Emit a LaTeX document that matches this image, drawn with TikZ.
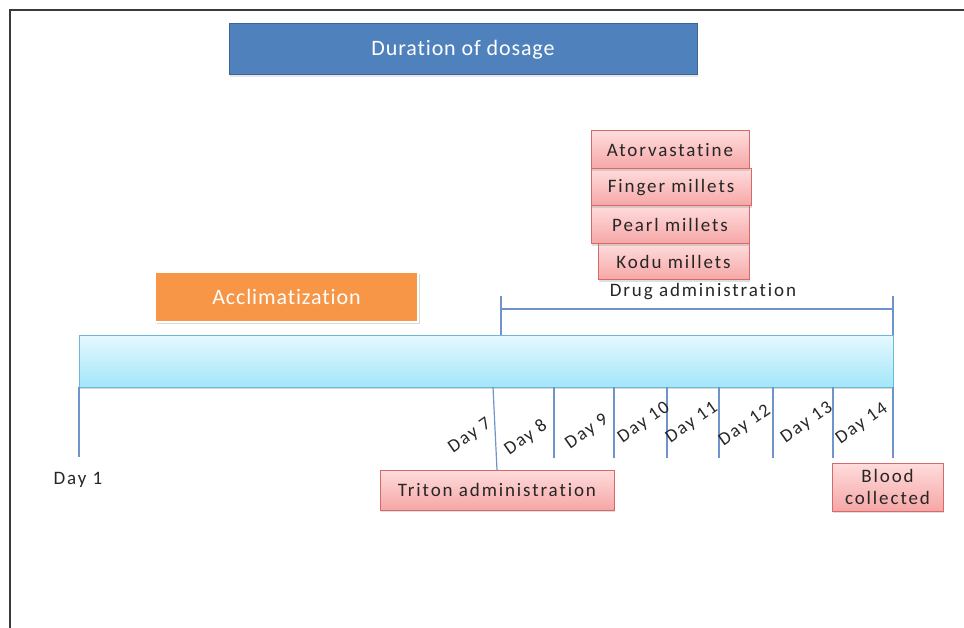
\documentclass[tikz,border=0pt]{standalone}
\usepackage{fontspec}
\setmainfont{Carlito}
\newfontfamily\spacedfont[LetterSpace=10,Ligatures=NoCommon]{Carlito}
\newfontfamily\headfont[LetterSpace=4,Ligatures=NoCommon]{Carlito}
\usetikzlibrary{shadows}

\definecolor{frameline}{HTML}{3A3A3A}
\definecolor{dosageblue}{HTML}{4F81BD}
\definecolor{dosageedge}{HTML}{3B6595}
\definecolor{accorange}{HTML}{F79646}
\definecolor{pinktop}{HTML}{FFDCDC}
\definecolor{pinkbot}{HTML}{F6A6A6}
\definecolor{pinkedge}{HTML}{D46A6A}
\definecolor{bartop}{HTML}{E4F8FE}
\definecolor{barbot}{HTML}{A3E6FA}
\definecolor{baredge}{HTML}{6CB8D6}
\definecolor{tickblue}{HTML}{6F94CB}
\definecolor{labelgray}{HTML}{262626}

\newcommand\smallspaced{\spacedfont\fontsize{19}{22}\selectfont}
\newcommand\dayspaced{\spacedfont\fontsize{18.5}{22}\selectfont}
\newcommand\bigspaced{\headfont\fontsize{22}{25}\selectfont}

\tikzset{
  box/.style={anchor=north west, inner sep=0pt, outer sep=0pt},
  pinkbox/.style={box, draw=pinkedge, line width=1pt,
    top color=pinktop, bottom color=pinkbot,
    font=\smallspaced, text=labelgray,
    drop shadow={opacity=0.25, shadow xshift=1pt, shadow yshift=-2pt}},
  tickline/.style={draw=tickblue, line width=1.2pt},
  daylabel/.style={font=\dayspaced, text=labelgray, rotate=35, inner sep=0pt},
}

\begin{document}
\begin{tikzpicture}[x=1pt, y=-1pt]
\useasboundingbox (0,0) rectangle (964,628);

% outer frame (top and left edges only)
\draw[frameline, line width=1.5pt] (10,628) -- (10,10) -- (964,10);

% header
\node[box, draw=dosageedge, line width=1pt, fill=dosageblue, text=white,
      font=\bigspaced, minimum width=468pt, minimum height=51pt,
      drop shadow={opacity=0.2, shadow xshift=1pt, shadow yshift=-2pt}]
  (dosage) at (229,24) {Duration of dosage};

% treatment groups
\node[pinkbox, minimum width=151pt, minimum height=36pt] (kodu) at (598,244) {Kodu millets};
\node[pinkbox, minimum width=158pt, minimum height=38pt] (pearl) at (591,206) {Pearl millets};
\node[pinkbox, minimum width=160pt, minimum height=37pt] (finger) at (591,169) {Finger millets};
\node[pinkbox, minimum width=158pt, minimum height=38pt] (ator) at (591,131) {Atorvastatine};

% acclimatization phase
\node[box, draw=white, line width=2pt, fill=accorange, text=white,
      font=\bigspaced, minimum width=263pt, minimum height=50pt,
      drop shadow={opacity=0.3, shadow xshift=1.5pt, shadow yshift=-2pt}]
  (accl) at (155,272) {Acclimatization};

% drug administration bracket
\coordinate (dL) at (501,296);
\coordinate (dR) at (893,296);
\coordinate (dLb) at (501,336);
\coordinate (dRb) at (893,336);
\coordinate (dLm) at (501,309);
\coordinate (dRm) at (893,309);
\draw[tickline] (dL) -- (dLb);
\draw[tickline] (dR) -- (dRb);
\draw[tickline] (dLm) -- (dRm);
\node[font=\smallspaced, text=labelgray, inner sep=0pt] (druglabel) at (703,292) {Drug administration};

% timeline bar
\node[box, draw=baredge, line width=1pt, top color=bartop, bottom color=barbot,
      minimum width=814pt, minimum height=51pt,
      drop shadow={opacity=0.3, shadow xshift=0pt, shadow yshift=-2pt}]
  (bar) at (79,336) {};

% event boxes
\node[pinkbox, minimum width=234pt, minimum height=40pt] (triton) at (380,470) {Triton administration};
\node[pinkbox, minimum width=111pt, minimum height=48pt, align=center,
      font=\smallspaced\linespread{0.95}] (blood) at (832,463) {Blood\\collected};

% day ticks
\coordinate (t1a) at (79,387);   \coordinate (t1b) at (79,457);
\coordinate (t7a) at (493,387);  \coordinate (t7b) at (497,470);
\coordinate (t8a) at (554,387);  \coordinate (t8b) at (554,458);
\coordinate (t9a) at (614,387);  \coordinate (t9b) at (614,458);
\coordinate (t10a) at (667,387); \coordinate (t10b) at (667,458);
\coordinate (t11a) at (719,387); \coordinate (t11b) at (719,458);
\coordinate (t12a) at (773,387); \coordinate (t12b) at (773,458);
\coordinate (t13a) at (833,387); \coordinate (t13b) at (833,458);
\coordinate (t14a) at (893,387); \coordinate (t14b) at (893,458);
\draw[tickline] (t1a) -- (t1b);
\foreach \d in {7,...,14} \draw[tickline] (t\d a) -- (t\d b);

% day labels
\node[font=\smallspaced, text=labelgray, inner sep=0pt] (day1) at (78,480) {Day 1};
\node[daylabel] (day7) at (470,436) {Day 7};
\node[daylabel] (day8) at (526,438) {Day 8};
\node[daylabel] (day9) at (587,432) {Day 9};
\node[daylabel] (day10) at (644,423) {Day 10};
\node[daylabel] (day11) at (692,423) {Day 11};
\node[daylabel] (day12) at (745,426) {Day 12};
\node[daylabel] (day13) at (807,423) {Day 13};
\node[daylabel] (day14) at (862,424) {Day 14};
\end{tikzpicture}
\end{document}
